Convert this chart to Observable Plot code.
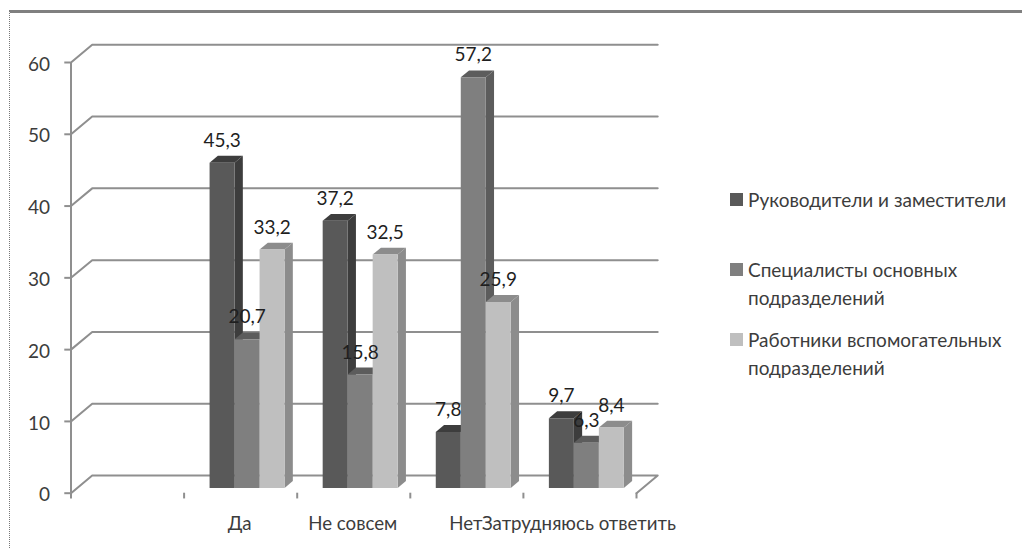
<!DOCTYPE html>
<html lang="ru">
<head>
<meta charset="utf-8">
<script src="https://cdn.jsdelivr.net/npm/d3@7"></script>
<script src="https://cdn.jsdelivr.net/npm/@observablehq/plot@0.6"></script>
<style>
  html, body { margin: 0; padding: 0; background: #fff; }
  #page { position: relative; width: 1022px; height: 548px; overflow: hidden; }
  #frame { position: absolute; left: 9px; top: 10px; right: 0; bottom: 0;
           border-top: 3px solid #808080; border-left: 1px dotted #777777; }
  #chart { position: absolute; left: 0; top: 0; }
  #legend { position: absolute; left: 0; top: 0; font-family: Lato, "Open Sans", sans-serif;
            font-size: 19px; line-height: 27.5px; color: #3c3c3c; }
  #legend .entry { position: absolute; left: 730px; white-space: nowrap; }
  #legend .swatch { position: absolute; left: 0; top: 7px; width: 13px; height: 13px; }
  #legend .name { position: absolute; left: 18px; top: 0; }
</style>
</head>
<body>
<div id="page">
  <div id="frame"></div>
  <div id="chart"></div>
  <div id="legend"></div>
</div>
<script>
// Survey answers by staff group, in percent; the first axis slot stays empty.
const categories = ["", "Да", "Не совсем", "Нет", "Затрудняюсь ответить"];
const managers = [45.3, 37.2, 7.8, 9.7];
const specialists = [20.7, 15.8, 57.2, 6.3];
const auxiliary = [33.2, 32.5, 25.9, 8.4];

const seriesNames = [
  ["Руководители и заместители"],
  ["Специалисты основных", "подразделений"],
  ["Работники вспомогательных", "подразделений"]
];
const seriesValues = [managers, specialists, auxiliary];
const frontColors = ["#595959", "#7f7f7f", "#bfbfbf"];
const shadeColors = ["#3d3d3d", "#5c5c5c", "#8c8c8c"];
const legendTops = [186, 256, 326];
const yTicks = [0, 10, 20, 30, 40, 50, 60];
const xTicks = [0, 1, 2, 3, 4, 5];

// Oblique projection: depth 0 is the front edge of the floor, depth 1 the back wall.
const depthX = 0.1875;
const depthY = 2.465;
const projX = (x, depth) => x + depth * depthX;
const projY = (v, depth) => v + depth * depthY;

// Column geometry within a category slot, in category units and depth fractions.
const gap = 0.169;
const barWidth = 0.221;
const depthFront = 0.3;
const depthBack = 0.69;

function polygon(rows, id, color, corners) {
  for (const [x, v, depth] of corners) {
    rows.push({id, color, x: projX(x, depth), y: projY(v, depth)});
  }
}

// Walls and floor outline.
const gridRows = [];
for (const v of yTicks) {
  gridRows.push({id: v, x: projX(0, 0), y: projY(v, 0)});
  gridRows.push({id: v, x: projX(0, 1), y: projY(v, 1)});
  gridRows.push({id: v, x: projX(5, 1), y: projY(v, 1)});
  if (v === 0) gridRows.push({id: v, x: projX(5, 0), y: projY(v, 0)});
}

// Column faces, listed back to front so that later columns cover earlier ones.
const faces = [];
const labels = [];
categories.slice(1).forEach((category, c) => {
  seriesValues.forEach((values, s) => {
    const v = values[c];
    const x0 = c + 1 + gap + s * barWidth;
    const x1 = x0 + barWidth;
    const key = `${c}-${s}`;
    polygon(faces, key + "-side", shadeColors[s], [
      [x1, 0, depthFront], [x1, 0, depthBack], [x1, v, depthBack], [x1, v, depthFront]
    ]);
    polygon(faces, key + "-top", shadeColors[s], [
      [x0, v, depthFront], [x1, v, depthFront], [x1, v, depthBack], [x0, v, depthBack]
    ]);
    polygon(faces, key + "-front", frontColors[s], [
      [x0, 0, depthFront], [x1, 0, depthFront], [x1, v, depthFront], [x0, v, depthFront]
    ]);
    labels.push({
      x: projX((x0 + x1) / 2, depthFront),
      y: projY(v, depthFront),
      text: v.toFixed(1).replace(".", ",")
    });
  });
});

const font = 'Lato, "Open Sans", sans-serif';
const axisGray = "#8f8f8f";

const chart = Plot.plot({
  width: 1022,
  height: 548,
  marginLeft: 70.5,
  marginRight: 386,
  marginTop: 62,
  marginBottom: 55.3,
  style: {background: "transparent", fontFamily: font},
  color: {type: "identity"},
  x: {domain: [0, 5], axis: null},
  y: {domain: [0, 60], axis: null},
  marks: [
    Plot.line(gridRows, {x: "x", y: "y", z: "id", stroke: axisGray, strokeWidth: 2}),
    Plot.ruleX([0], {y1: 0, y2: 60, stroke: axisGray, strokeWidth: 2}),
    Plot.ruleX(xTicks, {y1: 0, y2: -0.8, stroke: axisGray, strokeWidth: 2}),
    Plot.ruleY(yTicks, {x1: -0.055, x2: 0, stroke: axisGray, strokeWidth: 2}),
    Plot.line(faces, {
      x: "x", y: "y", z: "id", fill: d => d.color, stroke: "none"
    }),
    Plot.text(labels, {
      x: "x", y: "y", text: "text", dy: -22,
      fontSize: 19, fill: "#1f1f1f", lineAnchor: "middle"
    }),
    Plot.text(yTicks, {
      x: 0, y: d => d, text: d => String(d), dx: -21, dy: 2, textAnchor: "end",
      fontSize: 19, fill: "#3c3c3c", lineAnchor: "middle"
    }),
    Plot.text(categories.slice(1), {
      x: (d, i) => i + 1.5, y: 0, text: d => d, dx: -1, dy: 31,
      fontSize: 18.7, fill: "#3c3c3c", lineAnchor: "middle"
    })
  ]
});
document.getElementById("chart").appendChild(chart);

// Legend column to the right of the plot.
const legend = d3.select("#legend");
seriesNames.forEach((lines, s) => {
  const entry = legend.append("div").attr("class", "entry").style("top", legendTops[s] + "px");
  entry.append("div").attr("class", "swatch").style("background", frontColors[s]);
  const name = entry.append("div").attr("class", "name");
  lines.forEach(line => name.append("div").text(line));
});
</script>
</body>
</html>
